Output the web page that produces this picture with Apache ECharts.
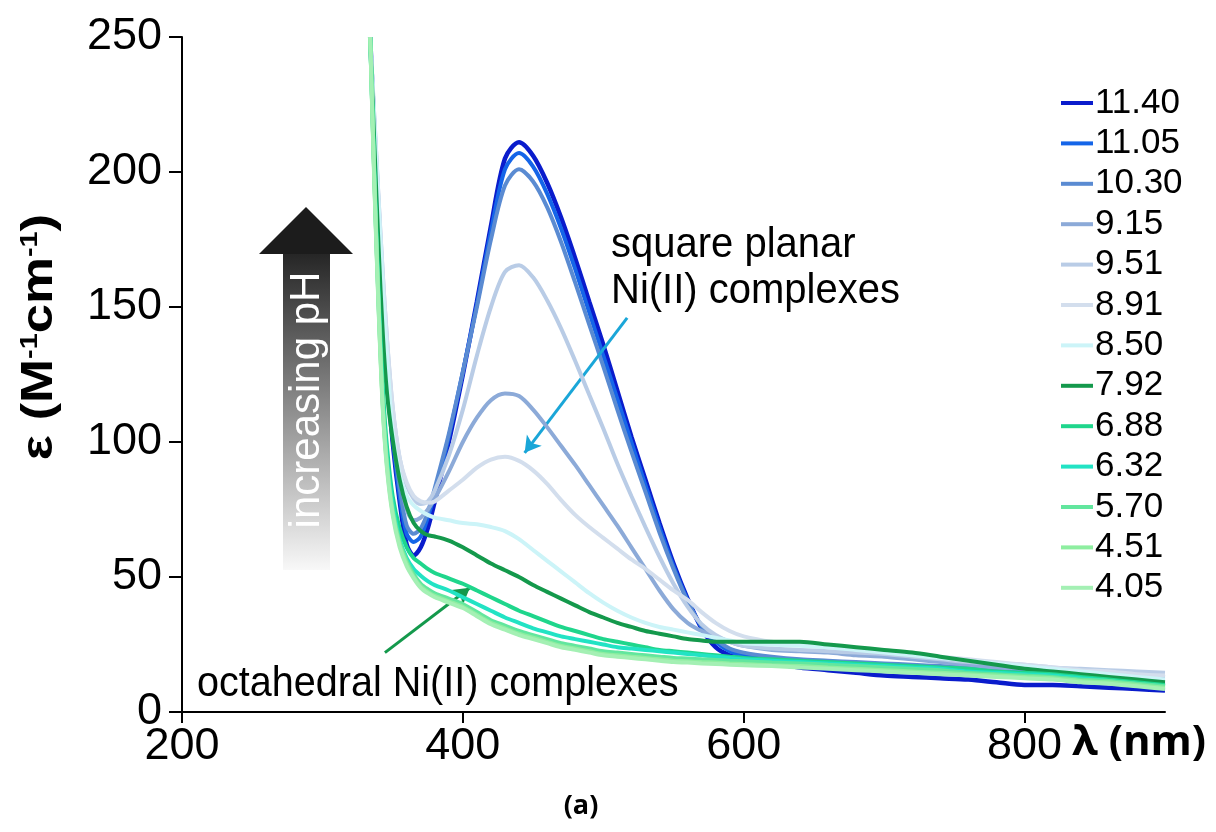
<!DOCTYPE html>
<html>
<head>
<meta charset="utf-8">
<script src="https://cdn.jsdelivr.net/npm/echarts@6/dist/echarts.min.js"></script>
<style>
html,body{margin:0;padding:0;background:#fff;}
#chart{width:1216px;height:832px;}
</style>
</head>
<body>
<div id="chart"></div>
<script>
// Wavelength grid (nm)
const wavelengths = [334,337,340,343,346,350,355,360,365,370,375,380,390,400,410,420,430,440,450,460,470,480,490,500,510,520,530,540,550,560,570,580,590,600,620,640,660,680,700,720,740,760,780,800,820,840,860,880,900];

// Series names (pH)
const phLabels = ['11.40','11.05','10.30','9.15','9.51','8.91','8.50','7.92','6.88','6.32','5.70','4.51','4.05'];

// ε values (M-1 cm-1) for each pH
const ph1140 = [250,215,182,150,125,100,78,62,58,61,68,78,100,125,152,180,205,211,206,196,183,168,152,136,119,102,86,70,55,42,31,24,21,20,18,16.5,15.5,14.5,13.5,13,12.5,12,11,10,10,9.5,9,8.5,8];
const ph1105 = [250,216,184,152,127,102,80,66,63,65,72,81,102,126,151,178,201,207,202,192,179,164,148,132,116,100,84,68.5,54,41.5,31.5,26,22.5,21,19.5,18.5,17.5,16.5,16,15.5,15,14.5,13.5,13,12.5,12,11.5,11,10.5];
const ph1030 = [250,217,186,154,129,104,83,69,66,68,74,83,103,126,150,175,195,201,196.5,187,174,159,143.5,128,112,96.5,81.5,66.5,53,41,32,27,23.5,22,20.5,19.5,19,18.5,18,17.5,17,16.5,16,15.5,15,14.5,14,13.5,13];
const ph915  = [250,218,188,158,133,108,88,75,71,72,75,79,89,100,109,115.5,118,117,112,105.5,98.5,91.5,84,76.5,69,61,53,45,38,33,30,28,26,24.5,23,22.5,22,21,20.5,19.5,18.5,17.5,16.5,16,15,14.5,14,13,12.5];
const ph951  = [250,220,190,162,138,113,94,84,79,77,78,82,95,112,132,150,163,165.5,161,152.5,142,130,117.5,105,92,80,68.5,57.5,47.5,39,32.5,28.5,26,24.5,23.5,23,22.5,22,21.5,20.5,19.5,18.5,18,17.5,16.5,16,15.5,15,14.5];
const ph891  = [250,220,190,162,138,113,94,85,80,78,77.5,78,82,86,90.5,93.5,94.5,93,89.5,84.5,78.5,73,68.5,64.5,60.5,56.5,53,49,45,41.5,37,33,30,28,26,25,24,23.5,22.5,21.5,20.5,19.5,18.5,17.5,16.5,15.5,15,14,13.5];
const ph850  = [250,219,188,158,132,104,88,80,76.5,74.5,73,72,71,70,69.5,68.5,67,64,60,56,52,48,44,40.5,37.5,35,33,31.5,30.5,29.5,28.5,27.5,26.5,25.5,25,24.5,24,23,22,21,20,19,18,17,16,15,14,13,12];
const ph792  = [250,210,172,140,118,101,86,76,70,67,65.5,65,63.5,61,58,55,52.5,50,47,44.5,42,39.5,37,35,33,31.5,30,29,28,27,26.5,26,26,26,26,26,25,24,23,22,20.5,19,17.5,16,15,14,13,12,11];
const ph688  = [250,200,155,120,98,80,68,61,57,55,53,51.5,49.5,47.5,45,42.5,40,37.5,35.5,33.5,31.5,30,28.5,27,26,25,24,23,22.5,22,21.5,21,20.5,20,19.5,19,18.5,18,17.5,17,16.5,16,15,14.5,14,13,12,11,10];
const ph632  = [250,198,152,116,94,77,64,57,53,50.5,48.5,47,45,42.5,40,37.5,35,33,31,29.5,28,27,26,25,24,23.5,23,22.5,22,21.5,21,20.5,20,19.5,19,18.5,18,17.5,17,16.5,16,15,14.5,14,13.5,12.5,11.5,10.5,9.5];
const ph570  = [250,197,151,114,92,75,63,56,51,47.5,45.5,44,42,40,37,34,32,30,28.5,27,25.5,24.5,23.5,22.5,22,21.5,21,20.5,20,19.8,19.5,19.3,19,18.8,18.3,18,17.5,17,16.5,16,15.5,14.5,14,13.5,13,12,11.5,10.5,9.5];
const ph451  = [250,196,150,113,91,74,62,55,50,46.5,44.5,43,41,39,36,33,31,29,27.5,26,24.5,23.5,22.5,21.5,21,20.5,20,19.5,19,18.8,18.5,18.3,18,17.8,17.3,17,16.5,16,15.5,15,14.5,14,13.5,13,12.5,11.5,11,10,9];
const ph405  = [250,195,149,112,90,73,61,54,49.5,46,44,42.5,40.5,38.5,35.5,32.5,30.5,28.5,27,25.5,24,23,22,21,20.5,20,19.5,19,18.5,18.3,18,17.8,17.5,17.3,17,16.5,16,15.5,15,14.5,14,13.5,13,12.5,12,11,10.5,9.5,8.5];

const seriesValues = [ph1140,ph1105,ph1030,ph915,ph951,ph891,ph850,ph792,ph688,ph632,ph570,ph451,ph405];
const seriesColors = ['#0a1ccc','#1565e8','#5a8bd2','#8caad8','#b9cce6','#d3deed','#ccf4f8','#14994c','#1fd68c','#22e3c4','#62e69e','#8eeea0','#a4f0b4'];

// Axis ticks: min, max, interval
const xTicks = [200, 900, 200];
const yTicks = [0, 250, 50];

const FONT = '"Liberation Sans", Arial, sans-serif';

const series = phLabels.map((name, i) => {
  const s = {
    name: name,
    type: 'line',
    data: wavelengths.map((w, k) => [w, seriesValues[i][k]]),
    showSymbol: false,
    symbol: 'none',
    smooth: 0.3,
    lineStyle: { color: seriesColors[i], width: i === 0 ? 4.5 : 4 },
    itemStyle: { color: seriesColors[i] },
    z: 2 + i,
    animation: false,
    clip: true
  };
  if (i === 0) {
    s.markLine = {
      silent: true,
      animation: false,
      symbol: ['none', 'arrow'],
      symbolSize: [14, 16],
      label: { show: false },
      data: [
        [{ coord: [517, 146], lineStyle: { color: '#1aa6d8', width: 3, type: 'solid' } }, { coord: [444, 96] }],
        [{ coord: [344.5, 22], lineStyle: { color: '#14994c', width: 3, type: 'solid' } }, { coord: [405, 46] }]
      ]
    };
  }
  return s;
});

const chart = echarts.init(document.getElementById('chart'), null, { renderer: 'canvas' });
chart.setOption({
  backgroundColor: '#ffffff',
  animation: false,
  grid: { left: 182, right: 51, top: 37, bottom: 120, containLabel: false },
  xAxis: {
    type: 'value',
    min: xTicks[0], max: xTicks[1], interval: xTicks[2],
    axisLine: { onZero: false, lineStyle: { color: '#000', width: 2 } },
    axisTick: { show: true, inside: false, length: 11, lineStyle: { color: '#000', width: 2 } },
    axisLabel: { color: '#000', fontSize: 45, fontFamily: FONT, margin: 12, showMaxLabel: false },
    splitLine: { show: false }
  },
  yAxis: {
    type: 'value',
    min: yTicks[0], max: yTicks[1], interval: yTicks[2],
    axisLine: { show: true, lineStyle: { color: '#000', width: 2 } },
    axisTick: { show: true, inside: false, length: 13, lineStyle: { color: '#000', width: 2 } },
    axisLabel: { color: '#000', fontSize: 45, fontFamily: FONT, margin: 20 },
    splitLine: { show: false }
  },
  legend: {
    orient: 'vertical',
    left: 1056,
    top: 80,
    icon: 'rect',
    itemWidth: 32,
    itemHeight: 4,
    itemGap: 4.4,
    data: phLabels,
    textStyle: { color: '#000', fontSize: 35, fontFamily: FONT, lineHeight: 36, padding: [0, 0, 0, -3] }
  },
  graphic: [
    { type: 'polygon', shape: { points: [[259, 254], [306, 207], [353, 254]] }, style: { fill: '#1c1c1c' }, z: 10 },
    { type: 'rect', shape: { x: 283, y: 254, width: 47, height: 316 },
      style: { fill: { type: 'linear', x: 0, y: 0, x2: 0, y2: 1, colorStops: [{ offset: 0, color: '#262626' }, { offset: 1, color: '#f8f8f8' }] } }, z: 10 },
    { type: 'text', x: 307, y: 400, rotation: Math.PI / 2, z: 11,
      style: { text: 'increasing pH', fill: '#ffffff', font: '42px "Liberation Sans"', align: 'center', verticalAlign: 'middle' } },
    { type: 'text', x: 611, y: 222, scaleX: 0.93, z: 11,
      style: { text: 'square planar\nNi(II) complexes', fill: '#000', font: '43px "Liberation Sans"', lineHeight: 46, align: 'left', verticalAlign: 'top' } },
    { type: 'text', x: 197, y: 663, scaleX: 0.92, z: 11,
      style: { text: 'octahedral Ni(II) complexes', fill: '#000', font: '43px "Liberation Sans"', align: 'left', verticalAlign: 'top' } },
    { type: 'text', x: 40, y: 337, rotation: Math.PI / 2, scaleX: 1.2, z: 11,
      style: { text: 'ε (M{s|-1}cm{s|-1})', fill: '#000', font: 'bold 44px "Liberation Sans"', align: 'center', verticalAlign: 'middle',
        rich: { s: { fontSize: 24, fontWeight: 'bold', fontFamily: 'Liberation Sans', verticalAlign: 'top', lineHeight: 44, padding: [0, 0, 16, 0] } } } },
    { type: 'text', x: 1072, y: 722, z: 11,
      style: { text: 'λ (nm)', fill: '#000', font: 'bold 42px "Open Sans"', verticalAlign: 'top' } },
    { type: 'text', x: 581, y: 806, z: 11,
      style: { text: '(a)', fill: '#000', font: 'bold 27px "Open Sans"', align: 'center', verticalAlign: 'middle' } }
  ],
  series: series
});
</script>
</body>
</html>
